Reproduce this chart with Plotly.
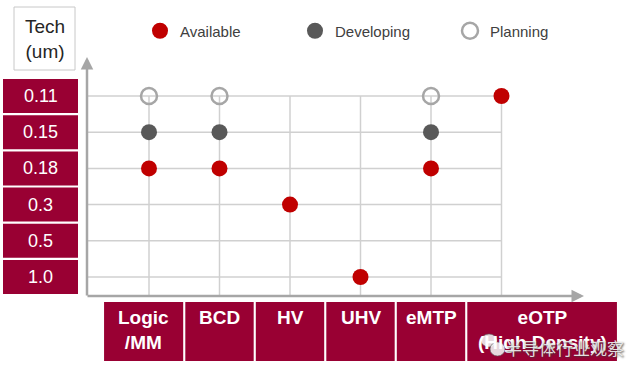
import plotly.graph_objects as go

# ---------------- data ----------------
processes = ["Logic/MM", "BCD", "HV", "UHV", "eMTP", "eOTP"]
process_labels = ["Logic<br>/MM", "BCD", "HV", "UHV", "eMTP", "eOTP<br>(High Density)"]
tech_nodes = ["1.0", "0.5", "0.3", "0.18", "0.15", "0.11"]  # bottom -> top

available_proc = ["Logic/MM", "BCD", "HV", "UHV", "eMTP", "eOTP"]
available_tech = ["0.18", "0.18", "0.3", "1.0", "0.18", "0.11"]

developing_proc = ["Logic/MM", "BCD", "eMTP"]
developing_tech = ["0.15", "0.15", "0.15"]

planning_proc = ["Logic/MM", "BCD", "eMTP"]
planning_tech = ["0.11", "0.11", "0.11"]

# ---------------- layout geometry (pixels) ----------------
FW, FH = 629, 366
XU, YU = 70.5, 36.2          # pixels per category step
X0PX, Y0PX = 149, 277        # pixel of first category (x) / bottom category (y)
XR = [(87 - X0PX) / XU, (620 - X0PX) / XU]
YR = [(Y0PX - 296) / YU, (Y0PX - 76) / YU]
L, R = 87, 620
B, T = 296, 76
PW, PH = R - L, B - T


def px(x):
    return (x - L) / PW


def py(y):
    return (B - y) / PH


MAROON = "#990033"
RED = "#c00000"
DARK = "#595959"
OPEN = "#a6a6a6"
GRID = "#d0d0d0"
FONT = "Liberation Sans, Arial, sans-serif"

fig = go.Figure()
fig.add_trace(go.Scatter(
    x=available_proc, y=available_tech, mode="markers", name="Available",
    marker=dict(color=RED, size=16, line=dict(width=0)), cliponaxis=False))
fig.add_trace(go.Scatter(
    x=developing_proc, y=developing_tech, mode="markers", name="Developing",
    marker=dict(color=DARK, size=16, line=dict(width=0)), cliponaxis=False))
fig.add_trace(go.Scatter(
    x=planning_proc, y=planning_tech, mode="markers", name="Planning",
    marker=dict(symbol="circle-open", color=OPEN, size=16, line=dict(width=2.5, color=OPEN)),
    cliponaxis=False))

shapes = []
annotations = []
nx, ny = len(processes), len(tech_nodes)

# grid (only up to the last category on each axis)
for j in range(ny):
    shapes.append(dict(type="line", xref="x", yref="y", x0=XR[0], x1=nx - 1, y0=j, y1=j,
                       line=dict(color=GRID, width=1.5), layer="below"))
for i in range(nx):
    shapes.append(dict(type="line", xref="x", yref="y", x0=i, x1=i, y0=YR[0], y1=ny - 1,
                       line=dict(color=GRID, width=1.5), layer="below"))

# Tech (um) header box
shapes.append(dict(type="rect", xref="paper", yref="paper",
                   x0=px(14), x1=px(75), y0=py(70), y1=py(7),
                   line=dict(color="#c8c8c8", width=1), fillcolor="white", layer="above"))
annotations.append(dict(xref="paper", yref="paper", x=px(44.5), y=py(38.5),
                        text="Tech<br>(um)", showarrow=False,
                        font=dict(family=FONT, size=19, color="#262626"),
                        xanchor="center", yanchor="middle"))

# Row label boxes (y categories)
for j, t in enumerate(tech_nodes):
    shapes.append(dict(type="rect", xref="paper", yref="y",
                       x0=px(3), x1=px(78), y0=j - 0.47, y1=j + 0.47,
                       line=dict(width=0), fillcolor=MAROON, layer="above"))
    annotations.append(dict(xref="paper", yref="y", x=px(40.5), y=j, text=t,
                            showarrow=False, xanchor="center", yanchor="middle",
                            font=dict(family=FONT, size=18, color="white")))

# Column label boxes (x categories)
for i, lab in enumerate(process_labels):
    x0 = (103 - X0PX) / XU if i == 0 else i - 0.5
    x1 = (618 - X0PX) / XU if i == nx - 1 else i + 0.5
    shapes.append(dict(type="rect", xref="x", yref="paper",
                       x0=x0 + 0.015, x1=x1 - 0.015, y0=py(361), y1=py(302),
                       line=dict(width=0), fillcolor=MAROON, layer="above"))
    annotations.append(dict(xref="x", yref="paper", x=(x0 + x1) / 2, y=py(305),
                            text="<b>" + lab + "</b>", showarrow=False,
                            xanchor="center", yanchor="top",
                            font=dict(family=FONT, size=19, color="white")))

# Axis arrows (tail offsets in pixels)
annotations.append(dict(xref="paper", yref="paper", x=px(584), y=py(296),
                        ax=-(584 - 86), ay=0, text="",
                        showarrow=True, arrowhead=2, arrowsize=1, arrowwidth=2.5,
                        arrowcolor=OPEN))
annotations.append(dict(xref="paper", yref="paper", x=px(87), y=py(57),
                        ax=0, ay=(297 - 57), text="",
                        showarrow=True, arrowhead=2, arrowsize=1, arrowwidth=2.5,
                        arrowcolor=OPEN))

# Watermark (icon bubbles + text)
shapes.append(dict(type="circle", xref="paper", yref="paper",
                   x0=px(481), x1=px(497), y0=py(347), y1=py(334),
                   line=dict(color="rgba(90,90,90,0.6)", width=1),
                   fillcolor="rgba(240,240,240,0.9)", layer="above"))
shapes.append(dict(type="circle", xref="paper", yref="paper",
                   x0=px(490), x1=px(505), y0=py(356), y1=py(342),
                   line=dict(color="rgba(90,90,90,0.6)", width=1),
                   fillcolor="rgba(240,240,240,0.9)", layer="above"))
annotations.append(dict(xref="paper", yref="paper", x=px(626), y=py(347),
                        text="半导体行业观察", showarrow=False,
                        xanchor="right", yanchor="middle",
                        font=dict(family="Noto Sans CJK SC", size=17,
                                  color="rgba(235,235,235,0.95)",
                                  shadow="1px 1px 2px rgba(60,60,60,0.9)")))

fig.update_layout(
    width=FW, height=FH,
    margin=dict(l=L, r=FW - R, t=T, b=FH - B, pad=0, autoexpand=False),
    paper_bgcolor="white", plot_bgcolor="white",
    showlegend=True,
    legend=dict(orientation="h", x=px(140), y=py(31), xanchor="left", yanchor="middle",
                entrywidth=110, entrywidthmode="pixels",
                font=dict(family=FONT, size=15, color="#404040"),
                bgcolor="rgba(0,0,0,0)", borderwidth=0, itemclick=False),
    xaxis=dict(type="category", categoryorder="array", categoryarray=processes,
               range=XR, showgrid=False, showticklabels=False, zeroline=False,
               showline=False, ticks=""),
    yaxis=dict(type="category", categoryorder="array", categoryarray=tech_nodes,
               range=YR, showgrid=False, showticklabels=False, zeroline=False,
               showline=False, ticks=""),
    shapes=shapes, annotations=annotations,
)

fig.write_html("out.html", config={"displayModeBar": False},
               post_script="document.body.style.margin='0px';")
